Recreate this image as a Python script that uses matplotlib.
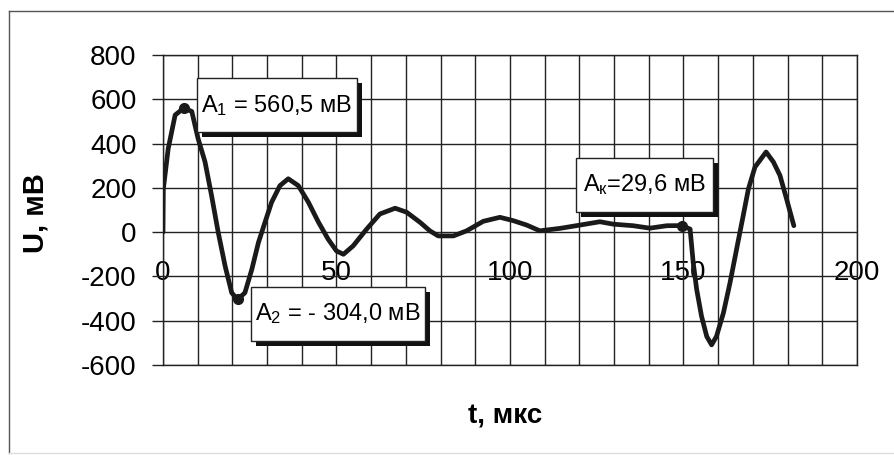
import numpy as np
import matplotlib.pyplot as plt
from matplotlib.patches import Rectangle
from matplotlib.lines import Line2D

plt.rcParams['font.family'] = ['Liberation Sans', 'DejaVu Sans']
plt.rcParams['mathtext.fontset'] = 'custom'
plt.rcParams['mathtext.rm'] = 'Liberation Sans'
plt.rcParams['mathtext.it'] = 'Liberation Sans:italic'
plt.rcParams['axes.unicode_minus'] = False

# signal
t = [0, 0.1, 1.5, 3.5, 6.0, 8.3, 10.1, 12.1, 14.0, 15.9, 17.9, 19.8, 21.5,
     23.6, 25.6, 27.5, 29.4, 31.3, 33.7, 36.1, 39.0, 41.9, 44.8, 47.6,
     50.0, 52.0, 54.8, 58.7, 62.5, 66.9, 70.2, 74.1, 76.9, 79.3, 83.7,
     87.5, 92.3, 97.1, 100.9, 104.8, 108.6, 114.4, 120.2, 125.9, 129.8,
     135.5, 140.3, 145.2, 149.5, 151.9, 152.8, 153.8, 155.2, 156.7, 158.1,
     159.5, 161.5, 163.4, 165.3, 167.2, 168.7, 170.6, 173.8, 175.9, 177.8,
     179.7, 181.8]
u = [0, 195, 377, 529, 560.5, 545, 423, 318, 165, 0, -153, -274, -304,
     -274, -168, -47, 45, 135, 210, 241, 210, 135, 45, -32,
     -85, -100, -62, 14, 82, 108, 90, 44, 6, -17, -17,
     6, 49, 67, 52, 32, 6, 17, 32, 47, 36,
     29, 18, 29, 29.6, 14, -138, -259, -380, -471, -509,
     -471, -365, -229, -77, 74, 195, 294, 362, 317, 256,
     150, 29]

peak_t = [6.0, 21.5, 149.5]
peak_u = [560.5, -304.0, 29.6]
peak_txt = ['A$_{\\mathrm{1}}$ = 560,5 мВ',
            'A$_{\\mathrm{2}}$ = - 304,0 мВ',
            'A$_{\\mathrm{к}}$=29,6 мВ']
# box centre (data) and width
box_cx = [32.85, 50.4, 138.8]
box_cy = [573, -368, 214]
box_w = [46.1, 50.1, 39.5]

xticks = [0, 50, 100, 150, 200]
yticks = [-600, -400, -200, 0, 200, 400, 600, 800]

fig = plt.figure(figsize=(8.95, 4.55), dpi=100)
ax = fig.add_axes([163/895, 90/455, 694/895, 310/455])

ax.set_xlim(0, 200)
ax.set_ylim(-600, 800)
ax.set_xticks(np.arange(0, 201, 10))
ax.set_yticks(yticks)
ax.grid(True, color='#222222', lw=1.0)
ax.set_axisbelow(True)
ax.tick_params(axis='x', length=0, labelbottom=False)
ax.tick_params(axis='y', length=8, width=1, pad=11, labelsize=20, color='#222222')
for s in ax.spines.values():
    s.set_color('#222222')
    s.set_linewidth(1.0)

ax.plot(t, u, color='#1a1a1a', lw=3.4, solid_capstyle='round', solid_joinstyle='round', zorder=3)
ax.plot(peak_t, peak_u, 'o', color='#1a1a1a', ms=7, zorder=4)

# x labels sit on the zero line
sec = ax.secondary_xaxis(600/1400)
sec.set_xticks(xticks)
sec.tick_params(length=0, pad=20, labelsize=20)
sec.spines['bottom'].set_visible(False)

bh = 245
dx = 1.45
dy = 22.7
for cx, cy, w, txt in zip(box_cx, box_cy, box_w, peak_txt):
    ax.add_patch(Rectangle((cx - w/2 + dx, cy - bh/2 - dy), w, bh,
                           fc='#111111', ec='none', zorder=5))
    ax.add_patch(Rectangle((cx - w/2, cy - bh/2), w, bh,
                           fc='white', ec='#222222', lw=1.0, zorder=6))
    ax.text(cx, cy, txt, ha='center', va='center', fontsize=17, zorder=7)

ax.set_ylabel('U, мВ', fontsize=21, fontweight='bold')
ax.yaxis.set_label_coords(-113/694, (455-213-90)/310)
fig.text(505/895, 1-416/455, 't, мкс', ha='center', va='center',
         fontsize=20, fontweight='bold')

# outer chart frame
fig.add_artist(Line2D([9/895, 9/895], [2/455, 1-11/455], color='#555555', lw=1.0))
fig.add_artist(Line2D([9/895, 1.0], [1-11/455, 1-11/455], color='#555555', lw=1.0))
fig.add_artist(Line2D([9/895, 1.0], [2/455, 2/455], color='#dddddd', lw=1.0))

fig.savefig('out.png', dpi=100)
